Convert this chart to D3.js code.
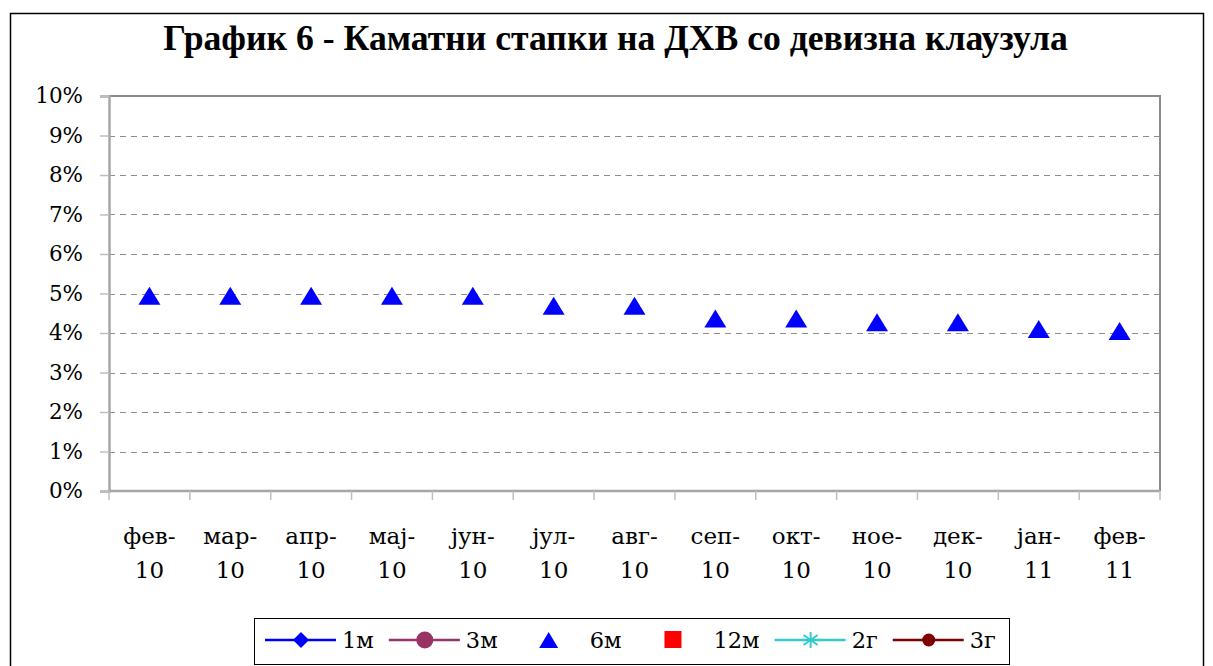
<!DOCTYPE html>
<html><head><meta charset="utf-8">
<script src="https://cdn.jsdelivr.net/npm/d3@7"></script>
<style>body{margin:0;background:#fff}svg{display:block}</style>
</head><body>
<svg id="c" width="1213" height="666"></svg>
<script>
const categories = ["фев-10","мар-10","апр-10","мај-10","јун-10","јул-10","авг-10","сеп-10","окт-10","ное-10","дек-10","јан-11","фев-11"];
const yTicks = [0,0.01,0.02,0.03,0.04,0.05,0.06,0.07,0.08,0.09,0.10];
const s1m  = [null,null,null,null,null,null,null,null,null,null,null,null,null];
const s3m  = [null,null,null,null,null,null,null,null,null,null,null,null,null];
const s6m  = [0.0494,0.0494,0.0494,0.0494,0.0494,0.0469,0.0469,0.0437,0.0437,0.0427,0.0427,0.0410,0.0405];
const s12m = [null,null,null,null,null,null,null,null,null,null,null,null,null];
const s2g  = [null,null,null,null,null,null,null,null,null,null,null,null,null];
const s3g  = [null,null,null,null,null,null,null,null,null,null,null,null,null];
const seriesNames = ["1м","3м","6м","12м","2г","3г"];
const title = "График 6 - Каматни стапки на ДХВ со девизна клаузула";

const FONT = "'DejaVu Serif', 'Liberation Serif', serif";
const TFONT = "'Liberation Serif', 'DejaVu Serif', serif";
const svg = d3.select("#c");
const L = 109, R = 1160, T = 96, B = 491;

// outer frame
svg.append("rect").attr("x",10.5).attr("y",13.5).attr("width",1193).attr("height",700)
  .attr("fill","#fff").attr("stroke","#000").attr("stroke-width",1.5);

// title
const tt = svg.append("text").attr("x",615.5).attr("y",50).attr("text-anchor","middle")
  .attr("font-family",TFONT).attr("font-weight","bold").attr("font-size",28).attr("fill","#000").text(title);
const tw = tt.node().getComputedTextLength();
tt.attr("font-size", 28*905/tw);

const x = d3.scaleBand().domain(categories).range([L,R]);
const y = d3.scaleLinear().domain([0,0.10]).range([B,T]);

// gridlines
svg.append("g").selectAll("line").data(yTicks.filter(v=>v>0 && v<0.10)).join("line")
  .attr("x1",L).attr("x2",R).attr("y1",d=>Math.round(y(d))+0.5).attr("y2",d=>Math.round(y(d))+0.5)
  .attr("stroke","#8c8c8c").attr("stroke-width",1).attr("stroke-dasharray","6,5");

// plot border (top, right)
svg.append("path").attr("d",`M${L},${T}H${R}V${B}`).attr("fill","none").attr("stroke","#8c8c8c").attr("stroke-width",2);

// y axis
const ya = svg.append("g").attr("transform",`translate(${L},0)`)
  .call(d3.axisLeft(y).tickValues(yTicks).tickFormat(d3.format(".0%")).tickSize(9).tickPadding(17));
ya.select(".domain").attr("stroke","#a6a6a6").attr("stroke-width",2.5);
ya.selectAll(".tick line").attr("stroke","#bfbfbf").attr("stroke-width",1.5);
ya.selectAll("text").attr("font-family",FONT).attr("font-size",21.5).attr("fill","#000");

// x axis line and ticks at category boundaries
svg.append("line").attr("x1",L).attr("x2",R).attr("y1",B).attr("y2",B).attr("stroke","#a6a6a6").attr("stroke-width",2.5);
const edges = categories.map(c=>x(c)).concat([x(categories[categories.length-1])+x.bandwidth()]);
svg.append("g").selectAll("line").data(edges).join("line")
  .attr("x1",d=>d).attr("x2",d=>d).attr("y1",B).attr("y2",B+9).attr("stroke","#bfbfbf").attr("stroke-width",1.5);

// x labels two lines
const xl = svg.append("g").selectAll("text").data(categories).join("text")
  .attr("text-anchor","middle").attr("font-family",FONT).attr("font-size",23).attr("fill","#000");
xl.append("tspan").attr("x",d=>x(d)+x.bandwidth()/2).attr("y",544).text(d=>d.split("-")[0]+"-");
xl.append("tspan").attr("x",d=>x(d)+x.bandwidth()/2).attr("y",578).text(d=>d.split("-")[1]);

// series marks
const tri = "M0,-9L11,9L-11,9Z";
svg.append("g").selectAll("path").data(s6m.map((v,i)=>({v,c:categories[i]})).filter(d=>d.v!=null)).join("path")
  .attr("d",tri).attr("transform",d=>`translate(${x(d.c)+x.bandwidth()/2},${y(d.v)})`).attr("fill","#0000ff");
const lineGen = d3.line().defined(d=>d.v!=null).x(d=>x(d.c)+x.bandwidth()/2).y(d=>y(d.v));
[[s1m,"#0000ff"],[s3m,"#993366"],[s2g,"#33cccc"],[s3g,"#800000"]].forEach(([s,col])=>{
  svg.append("path").datum(s.map((v,i)=>({v,c:categories[i]}))).attr("d",lineGen).attr("fill","none").attr("stroke",col).attr("stroke-width",2.5);
});

// legend
svg.append("rect").attr("x",254.5).attr("y",618.5).attr("width",755).attr("height",46)
  .attr("fill","#fff").attr("stroke","#000").attr("stroke-width",1);
const legStyles = [
  {line:"#0000ff", mk:"diamond", col:"#0000ff"},
  {line:"#993366", mk:"circle", col:"#993366"},
  {line:null, mk:"triangle", col:"#0000ff"},
  {line:null, mk:"square", col:"#ff0000"},
  {line:"#33cccc", mk:"star", col:"#33cccc"},
  {line:"#800000", mk:"smallcircle", col:"#800000"}
];
let lx = 265; const ly = 640;
seriesNames.forEach((name,i)=>{
  const st = legStyles[i];
  const g = svg.append("g");
  const cx = lx + 36;
  if (st.line) g.append("line").attr("x1",lx).attr("x2",lx+71).attr("y1",ly).attr("y2",ly).attr("stroke",st.line).attr("stroke-width",2.5);
  if (st.mk==="diamond") g.append("path").attr("d","M0,-8L8,0L0,8L-8,0Z").attr("transform",`translate(${cx},${ly})`).attr("fill",st.col);
  if (st.mk==="circle") g.append("circle").attr("cx",cx).attr("cy",ly).attr("r",8.5).attr("fill",st.col);
  if (st.mk==="smallcircle") g.append("circle").attr("cx",cx).attr("cy",ly).attr("r",6.5).attr("fill",st.col);
  if (st.mk==="triangle") g.append("path").attr("d","M0,-8L9.5,8L-9.5,8Z").attr("transform",`translate(${cx},${ly})`).attr("fill",st.col);
  if (st.mk==="square") g.append("rect").attr("x",cx-8).attr("y",ly-9).attr("width",17).attr("height",17).attr("fill",st.col);
  if (st.mk==="star") {
    const sg = g.append("g").attr("transform",`translate(${cx},${ly})`).attr("stroke",st.col).attr("stroke-width",2);
    sg.append("line").attr("x1",0).attr("x2",0).attr("y1",-8).attr("y2",8);
    sg.append("line").attr("x1",-7).attr("x2",7).attr("y1",-5).attr("y2",5);
    sg.append("line").attr("x1",-7).attr("x2",7).attr("y1",5).attr("y2",-5);
  }
  const t = g.append("text").attr("x",lx+77).attr("y",648).attr("font-family",FONT).attr("font-size",22.5).attr("fill","#000").text(name);
  lx = lx + 77 + t.node().getComputedTextLength() + 15;
});
</script>
</body></html>
